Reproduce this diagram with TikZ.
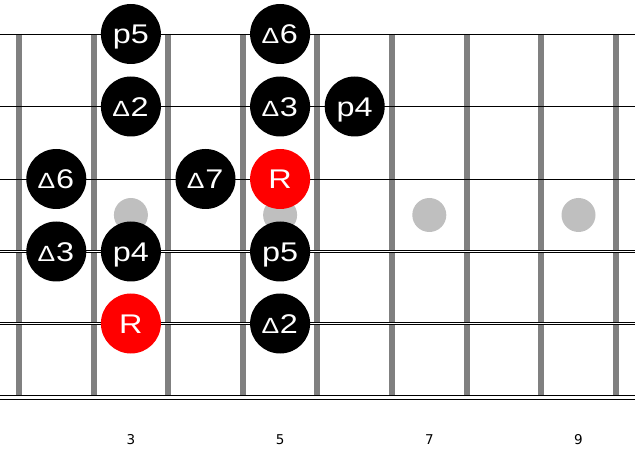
\documentclass[tikz,border=0pt]{standalone}
\usepackage{fontspec}
\setmainfont{Liberation Sans}[FakeStretch=1.2]
\newfontfamily\fretfont{DejaVu Sans}
\usetikzlibrary{positioning}
\newcommand{\majtri}{{\fontsize{22}{22}\selectfont ∆\kern1.5pt}}
\tikzset {
  fret line/.style = {
    draw = black!50,
    line width = 6pt
  },
  % single strings
  plain string/.style = {
    draw = black,
    line width = 0.9pt
  },
  % wound strings
  wound string/.style = {
    draw = black,
    double = white,
    line width = 0.9pt,
    double distance = 1.5pt
  },
  bass string/.style = {
    wound string,
    double distance = 3pt
  },
  inlay/.style = {
    fill = black!25
  }
}
\tikzset {
  note/.style = {
    circle,
    fill = black,
    text = white,
    minimum size = 60pt,
    inner sep = 0,
    text height = 19.3pt,
    text depth = 0pt,
    font = \fontsize{27}{27}\selectfont
  },
  % root of the scale
  root/.style = {
    note,
    fill = red
  },
  fret number/.style = {
    inner sep = 0,
    font = \fretfont\fontsize{13.5}{13.5}\selectfont
  }
}

\begin{document}
\begin{tikzpicture}[x = 1pt, y = -1pt]
    \useasboundingbox (0,0) rectangle (635,449);

    \foreach \i in {0,...,8}
      \draw[fret line] ({19+74.6*\i},34) -- ({19+74.6*\i},395);

    \foreach \f in {3,5,7,9}
      \fill[inlay] ({56.3+74.6*(\f-2)},215) circle (17pt);

    \foreach \y in {34,106.5,179}
      \draw[plain string] (0,\y) -- (635,\y);
    \foreach \y in {251.5,323.5}
      \draw[wound string] (0,\y) -- (635,\y);
    \draw[bass string] (0,397.3) -- (635,397.3);

    \node[note] (fifthhigh) at (130.9,34) {p5};
    \node[note] (sixthhigh) at (280.1,34) {\majtri 6};
    \node[note] (secondmid) at (130.9,106.5) {\majtri 2};
    \node[note] (thirdmid) at (280.1,106.5) {\majtri 3};
    \node[note] (fourthmid) at (354.7,106.5) {p4};
    \node[note] (sixthlow) at (56.3,179) {\majtri 6};
    \node[note] (seventh) at (205.5,179) {\majtri 7};
    \node[root] (roothigh) at (280.1,179) {R};
    \node[note] (thirdlow) at (56.3,251.5) {\majtri 3};
    \node[note] (fourthlow) at (130.9,251.5) {p4};
    \node[note] (fifthlow) at (280.1,251.5) {p5};
    \node[root] (rootlow) at (130.9,323.5) {R};
    \node[note] (secondlow) at (280.1,323.5) {\majtri 2};

    \foreach \f in {3,5,7,9}
      \node[fret number] (num\f) at ({56.3+74.6*(\f-2)},440) {\f};
  \end{tikzpicture}
\end{document}
